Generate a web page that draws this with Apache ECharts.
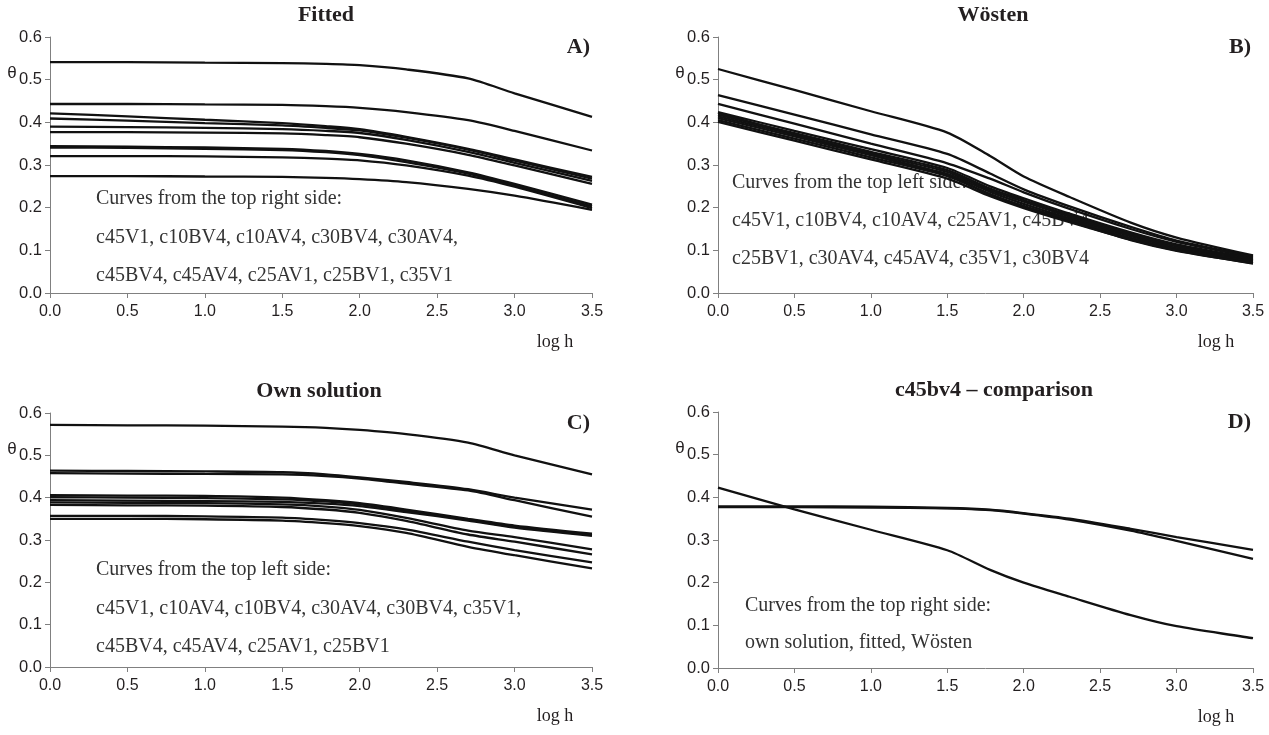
<!DOCTYPE html>
<html><head><meta charset="utf-8">
<script src="https://cdn.jsdelivr.net/npm/echarts@6/dist/echarts.min.js"></script>
<style>html,body{margin:0;padding:0;background:#fff}#c{width:1269px;height:735px}</style>
</head><body><div id="c"></div>
<script>
// shared log h positions of the sampled points
const logH = [0, 0.5, 1.0, 1.5, 1.78, 2.0, 2.3, 2.7, 3.0, 3.5];
const xTicks = ['0.0','0.5','1.0','1.5','2.0','2.5','3.0','3.5'];
const yTicks = ['0.0','0.1','0.2','0.3','0.4','0.5','0.6'];

// Panel A – Fitted
const fitted_c45V1  = [0.541,0.541,0.540,0.539,0.537,0.534,0.524,0.503,0.468,0.413];
const fitted_c10BV4 = [0.443,0.443,0.442,0.441,0.438,0.434,0.424,0.405,0.380,0.334];
const fitted_c10AV4 = [0.421,0.414,0.406,0.398,0.391,0.384,0.366,0.338,0.313,0.272];
const fitted_c30BV4 = [0.409,0.404,0.398,0.393,0.387,0.381,0.364,0.336,0.310,0.268];
const fitted_c30AV4 = [0.390,0.389,0.387,0.384,0.380,0.375,0.359,0.331,0.305,0.263];
const fitted_c45BV4 = [0.377,0.377,0.376,0.374,0.370,0.365,0.350,0.324,0.299,0.256];
const fitted_c45AV4 = [0.344,0.343,0.341,0.338,0.333,0.326,0.311,0.283,0.256,0.207];
const fitted_c25AV1 = [0.341,0.340,0.338,0.335,0.330,0.323,0.307,0.280,0.252,0.203];
const fitted_c25BV1 = [0.321,0.321,0.320,0.318,0.315,0.311,0.299,0.275,0.249,0.199];
const fitted_c35V1  = [0.274,0.274,0.273,0.272,0.270,0.267,0.260,0.244,0.228,0.195];

// Panel B – Wösten
const woesten_c45V1  = [0.525,0.476,0.426,0.376,0.321,0.273,0.225,0.165,0.130,0.088];
const woesten_c10BV4 = [0.464,0.418,0.372,0.326,0.280,0.243,0.203,0.155,0.123,0.086];
const woesten_c10AV4 = [0.443,0.397,0.350,0.304,0.268,0.236,0.197,0.150,0.120,0.084];
const woesten_c25AV1 = [0.424,0.380,0.337,0.293,0.250,0.222,0.186,0.142,0.114,0.081];
const woesten_c45BV4 = [0.422,0.372,0.324,0.276,0.231,0.201,0.168,0.124,0.099,0.070];
const woesten_c25BV1 = [0.418,0.375,0.331,0.288,0.245,0.218,0.182,0.139,0.112,0.079];
const woesten_c30AV4 = [0.414,0.371,0.327,0.284,0.241,0.214,0.179,0.136,0.109,0.077];
const woesten_c45AV4 = [0.410,0.367,0.323,0.279,0.237,0.209,0.175,0.133,0.106,0.075];
const woesten_c35V1  = [0.405,0.362,0.318,0.274,0.232,0.204,0.171,0.129,0.103,0.073];
const woesten_c30BV4 = [0.401,0.357,0.313,0.268,0.227,0.199,0.166,0.125,0.100,0.069];

// Panel C – Own solution
const own_c45V1  = [0.572,0.571,0.570,0.568,0.565,0.560,0.550,0.530,0.500,0.455];
const own_c10AV4 = [0.464,0.463,0.462,0.460,0.455,0.448,0.437,0.420,0.400,0.372];
const own_c10BV4 = [0.458,0.457,0.456,0.455,0.451,0.445,0.433,0.417,0.394,0.355];
const own_c30AV4 = [0.406,0.405,0.404,0.400,0.394,0.387,0.372,0.350,0.334,0.315];
const own_c30BV4 = [0.401,0.400,0.399,0.396,0.391,0.384,0.369,0.348,0.331,0.312];
const own_c35V1  = [0.394,0.393,0.392,0.390,0.386,0.380,0.366,0.346,0.329,0.310];
const own_c45BV4 = [0.389,0.388,0.387,0.384,0.379,0.371,0.352,0.322,0.307,0.278];
const own_c45AV4 = [0.383,0.382,0.381,0.378,0.372,0.364,0.345,0.313,0.296,0.266];
const own_c25AV1 = [0.357,0.357,0.356,0.353,0.347,0.340,0.325,0.296,0.276,0.247];
const own_c25BV1 = [0.350,0.350,0.349,0.346,0.340,0.333,0.317,0.284,0.264,0.233];

// Panel D – c45bv4 comparison
const cmp_own     = [0.379,0.379,0.378,0.375,0.371,0.363,0.350,0.326,0.307,0.277];
const cmp_fitted  = [0.377,0.377,0.376,0.374,0.370,0.362,0.348,0.322,0.298,0.256];
const cmp_woesten = [0.423,0.372,0.324,0.276,0.230,0.200,0.167,0.124,0.098,0.070];

const panels = [
  {title:'Fitted', tag:'A)', series:[fitted_c45V1,fitted_c10BV4,fitted_c10AV4,fitted_c30BV4,fitted_c30AV4,fitted_c45BV4,fitted_c45AV4,fitted_c25AV1,fitted_c25BV1,fitted_c35V1],
   note:['Curves from the top right side:','c45V1, c10BV4, c10AV4, c30BV4, c30AV4,','c45BV4, c45AV4, c25AV1, c25BV1, c35V1']},
  {title:'Wösten', tag:'B)', series:[woesten_c45V1,woesten_c10BV4,woesten_c10AV4,woesten_c25AV1,woesten_c45BV4,woesten_c25BV1,woesten_c30AV4,woesten_c45AV4,woesten_c35V1,woesten_c30BV4],
   note:['Curves from the top left side:','c45V1, c10BV4, c10AV4, c25AV1, c45BV4,','c25BV1, c30AV4, c45AV4, c35V1, c30BV4']},
  {title:'Own solution', tag:'C)', series:[own_c45V1,own_c10AV4,own_c10BV4,own_c30AV4,own_c30BV4,own_c35V1,own_c45BV4,own_c45AV4,own_c25AV1,own_c25BV1],
   note:['Curves from the top left side:','c45V1, c10AV4, c10BV4, c30AV4, c30BV4, c35V1,','c45BV4, c45AV4, c25AV1, c25BV1']},
  {title:'c45bv4 – comparison', tag:'D)', series:[cmp_own,cmp_fitted,cmp_woesten],
   note:['Curves from the top right side:','own solution, fitted, Wösten']}
];

// layout (pixels)
const grids = [
  {left:50, top:37, width:542, height:256},
  {left:718, top:37, width:535, height:256},
  {left:50, top:413, width:542, height:254},
  {left:718, top:412, width:535, height:256}
];
const titleX = [321, 988, 314, 989];
const noteStart = [{x:96,y:199},{x:732,y:183},{x:96,y:570},{x:745,y:606}];
const noteGap = [38.5,38,38.5,37];

const serif = '"Liberation Serif", "DejaVu Serif", serif';
const sans = '"Liberation Sans", Arial, sans-serif';
const ink = '#231f20';
const axisCol = '#808080';

const option = {animation:false, title:[], grid:[], xAxis:[], yAxis:[], series:[], graphic:[]};
panels.forEach((p,i)=>{
  const g = grids[i];
  option.grid.push({left:g.left, top:g.top, width:g.width, height:g.height});
  option.title.push({text:p.title, left:titleX[i], top:g.top-38, textAlign:'center',
    textStyle:{fontFamily:serif, fontWeight:'bold', fontSize:22, color:ink}});
  option.xAxis.push({type:'value', gridIndex:i, min:0, max:3.5, interval:0.5,
    axisLine:{lineStyle:{color:axisCol,width:1}}, axisTick:{show:true,length:5,inside:false,lineStyle:{color:axisCol}},
    splitLine:{show:false},
    axisLabel:{fontFamily:sans, fontSize:16, color:ink, margin:11, formatter:v=>xTicks[Math.round(v/0.5)]}});
  option.yAxis.push({type:'value', gridIndex:i, min:0, max:0.6, interval:0.1,
    axisLine:{show:true,lineStyle:{color:axisCol,width:1}}, axisTick:{show:true,length:5,lineStyle:{color:axisCol}},
    splitLine:{show:false},
    axisLabel:{fontFamily:sans, fontSize:16.5, color:ink, margin:8, formatter:v=>yTicks[Math.round(v/0.1)]}});
  p.series.forEach(arr=>{
    option.series.push({type:'line', xAxisIndex:i, yAxisIndex:i, showSymbol:false, smooth:0.25,
      lineStyle:{color:'#111', width:2.3}, data:logH.map((x,k)=>[x,arr[k]])});
  });
  option.graphic.push({type:'text', x:g.left+g.width-2, y:g.top+10,
    style:{text:p.tag, font:'bold 22px '+serif, fill:ink, textAlign:'right', textVerticalAlign:'middle'}});
  option.graphic.push({type:'text', x:g.left-38, y:g.top+36,
    style:{text:'θ', font:'17px '+sans, fill:ink, textAlign:'center', textVerticalAlign:'middle'}});
  option.graphic.push({type:'text', x:g.left+g.width-37, y:g.top+g.height+49,
    style:{text:'log h', font:'18px '+serif, fill:ink, textAlign:'center', textVerticalAlign:'middle'}});
  p.note.forEach((t,k)=>{
    option.graphic.push({type:'text', x:noteStart[i].x, y:noteStart[i].y+k*noteGap[i],
      style:{text:t, font:'20px '+serif, fill:'#333', textVerticalAlign:'middle'}});
  });
});
echarts.init(document.getElementById('c')).setOption(option);
</script></body></html>
